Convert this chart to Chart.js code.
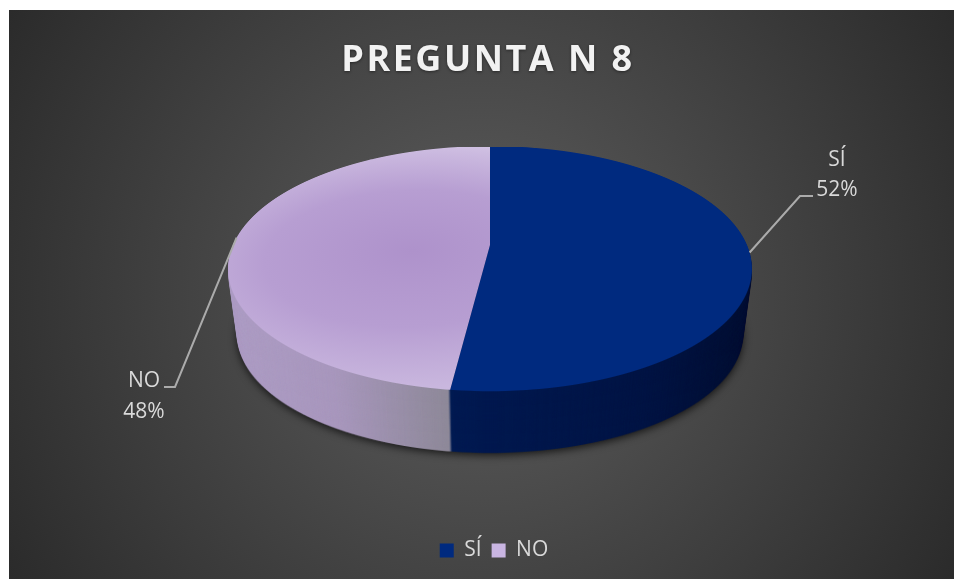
<!DOCTYPE html>
<html lang="es">
<head>
    <meta charset="UTF-8">
    <title>PREGUNTA N 8</title>
    <script src="https://cdn.jsdelivr.net/npm/chart.js@4"></script>
    <style>
        html, body { margin: 0; background: #fff; overflow: hidden; }
        .chart-box {
            position: absolute; left: 9px; top: 10px; width: 945px; height: 569px;
            background: radial-gradient(circle 560px at 50% 50%, #5e5e5e 0%, #2a2a2a 100%);
        }
        canvas { display: block; }
    </style>
</head>
<body>
<div class="chart-box"><canvas id="pieChart" width="945" height="569"></canvas></div>

<script>
    const chartTitle = 'PREGUNTA N 8';
    const categories = ['SÍ', 'NO'];
    const values = [52, 48];

    const FONT = '"Open Sans", sans-serif';
    const TEXT = '#d9d9d9';
    const legendColors = ['#002a7f', '#c9b5e2'];

    // perspective of the pie top, in canvas pixels
    const persp = { x: 481, y: 235, rx: 257, a: 118, c: -0.193, top: 137, bottom: 381, midY: 258 };
    // extrusion of the pie wall
    const wall = { depth: 66, shrink: 0.035 };
    // leader lines: [elbow x, elbow y, end x], text centre x, y of the two text rows
    const callouts = [
        { elbow: [791, 186], end: 804, x: 828, y: [150, 180] },
        { elbow: [166, 377], end: 155, x: 135, y: [371, 402] }
    ];

    function project(u, v) {
        const s = 1 / (1 + persp.c * v);
        return [persp.x + persp.rx * u * s, persp.y + persp.a * v * s];
    }

    // draws the slices one pixel row at a time so the circle gets real perspective
    function drawFace(ctx, arcs) {
        const { x: px, y: py, outerRadius: R } = arcs[0];
        for (let y = persp.top; y <= persp.bottom; y++) {
            const dy = y + 0.5 - persp.y;
            const v = dy / (persp.a - persp.c * dy);
            if (Math.abs(v) > 1.02) continue;
            const s = 1 / (1 + persp.c * v);
            const sx = persp.rx * s / R;
            const sy = persp.a * s * s / R;
            ctx.save();
            ctx.beginPath();
            ctx.rect(0, y, ctx.canvas.width, 1);
            ctx.clip();
            ctx.setTransform(sx, 0, 0, sy, persp.x - px * sx, y + 0.5 - (py + v * R) * sy);
            arcs.forEach(arc => arc.draw(ctx));
            ctx.restore();
        }
    }

    function makeWall(chart, arcs) {
        const layer = document.createElement('canvas');
        layer.width = chart.width;
        layer.height = chart.height;
        const lc = layer.getContext('2d');
        drawFace(lc, arcs);
        const g = lc.createLinearGradient(219, 0, 743, 0);
        g.addColorStop(0, '#ad9cc4');
        g.addColorStop(0.2, '#a897bd');
        g.addColorStop(0.42, '#8e8999');
        g.addColorStop(0.425, '#001a52');
        g.addColorStop(0.8, '#001444');
        g.addColorStop(1, '#000f33');
        lc.globalCompositeOperation = 'source-in';
        lc.fillStyle = g;
        lc.fillRect(0, 0, layer.width, layer.height);
        return layer;
    }

    const pie3d = {
        id: 'pie3d',
        beforeDraw(chart) {
            // letter spacing and soft shadow only apply to the title
            const box = chart.titleBlock;
            if (box && !box.spaced) {
                const draw = box.draw;
                box.spaced = true;
                box.draw = function () {
                    const ctx = chart.ctx;
                    ctx.save();
                    ctx.translate(-6, 0);
                    ctx.letterSpacing = '2.5px';
                    ctx.shadowColor = 'rgba(0,0,0,0.45)';
                    ctx.shadowBlur = 3;
                    ctx.shadowOffsetY = 1;
                    draw.call(this);
                    ctx.restore();
                };
            }
        },
        beforeDatasetsDraw(chart) {
            const ctx = chart.ctx;
            const arcs = chart.getDatasetMeta(0).data;
            const layer = makeWall(chart, arcs);
            const W = chart.width, H = chart.height;
            ctx.save();
            for (let d = wall.depth; d >= 1; d--) {
                const t = d / wall.depth;
                const s = 1 - wall.shrink * t;
                if (d === wall.depth) {
                    ctx.shadowColor = 'rgba(0,0,0,0.75)';
                    ctx.shadowBlur = 9;
                    ctx.shadowOffsetY = 2;
                } else {
                    ctx.shadowColor = 'transparent';
                }
                ctx.drawImage(layer, persp.x - persp.x * s, persp.midY + d - persp.midY * s, W * s, H * s);
            }
            ctx.restore();
            drawFace(ctx, arcs);
            return false;
        },
        afterDraw(chart) {
            const ctx = chart.ctx;
            chart.getDatasetMeta(0).data.forEach((arc, i) => {
                const mid = (arc.startAngle + arc.endAngle) / 2;
                const [x0, y0] = project(Math.cos(mid), Math.sin(mid));
                const c = callouts[i];
                ctx.strokeStyle = '#ababab';
                ctx.lineWidth = 2;
                ctx.beginPath();
                ctx.moveTo(x0, y0);
                ctx.lineTo(c.elbow[0], c.elbow[1]);
                ctx.lineTo(c.end, c.elbow[1]);
                ctx.stroke();
                ctx.fillStyle = TEXT;
                ctx.font = '21px ' + FONT;
                ctx.textAlign = 'center';
                ctx.textBaseline = 'middle';
                ctx.fillText(categories[i], c.x, c.y[0]);
                ctx.fillText(values[i] + '%', c.x, c.y[1]);
            });
        }
    };

    function sliceFill(context) {
        const chart = context.chart;
        const area = chart.chartArea;
        if (context.dataIndex === 0 || !area) return legendColors[context.dataIndex];
        const cx = (area.left + area.right) / 2;
        const cy = (area.top + area.bottom) / 2;
        const R = Math.min(area.width, area.height) / 2;
        const g = chart.ctx.createRadialGradient(cx - 0.3 * R, cy + 0.05 * R, 0, cx - 0.3 * R, cy + 0.05 * R, 1.25 * R);
        g.addColorStop(0, '#ae92cb');
        g.addColorStop(0.45, '#b79ed2');
        g.addColorStop(0.8, '#ccbbe0');
        g.addColorStop(1, '#dacfe9');
        return g;
    }

    new Chart(document.getElementById('pieChart'), {
        type: 'pie',
        data: {
            labels: categories,
            datasets: [{ data: values, backgroundColor: sliceFill, borderWidth: 0 }]
        },
        options: {
            responsive: false,
            devicePixelRatio: 1,
            animation: false,
            layout: { padding: { left: 25, bottom: 8 } },
            plugins: {
                tooltip: { enabled: false },
                title: {
                    display: true,
                    text: chartTitle,
                    color: '#f2f2f2',
                    font: { family: FONT, size: 36, weight: 'bold' },
                    padding: { top: 29, bottom: 0 }
                },
                legend: {
                    position: 'bottom',
                    labels: {
                        boxWidth: 14,
                        boxHeight: 14,
                        color: TEXT,
                        font: { family: FONT, size: 21 },
                        generateLabels: () => categories.map((text, i) => ({
                            text, fillStyle: legendColors[i], lineWidth: 0, fontColor: TEXT, index: i
                        }))
                    }
                }
            }
        },
        plugins: [pie3d]
    });
</script>
</body>
</html>
